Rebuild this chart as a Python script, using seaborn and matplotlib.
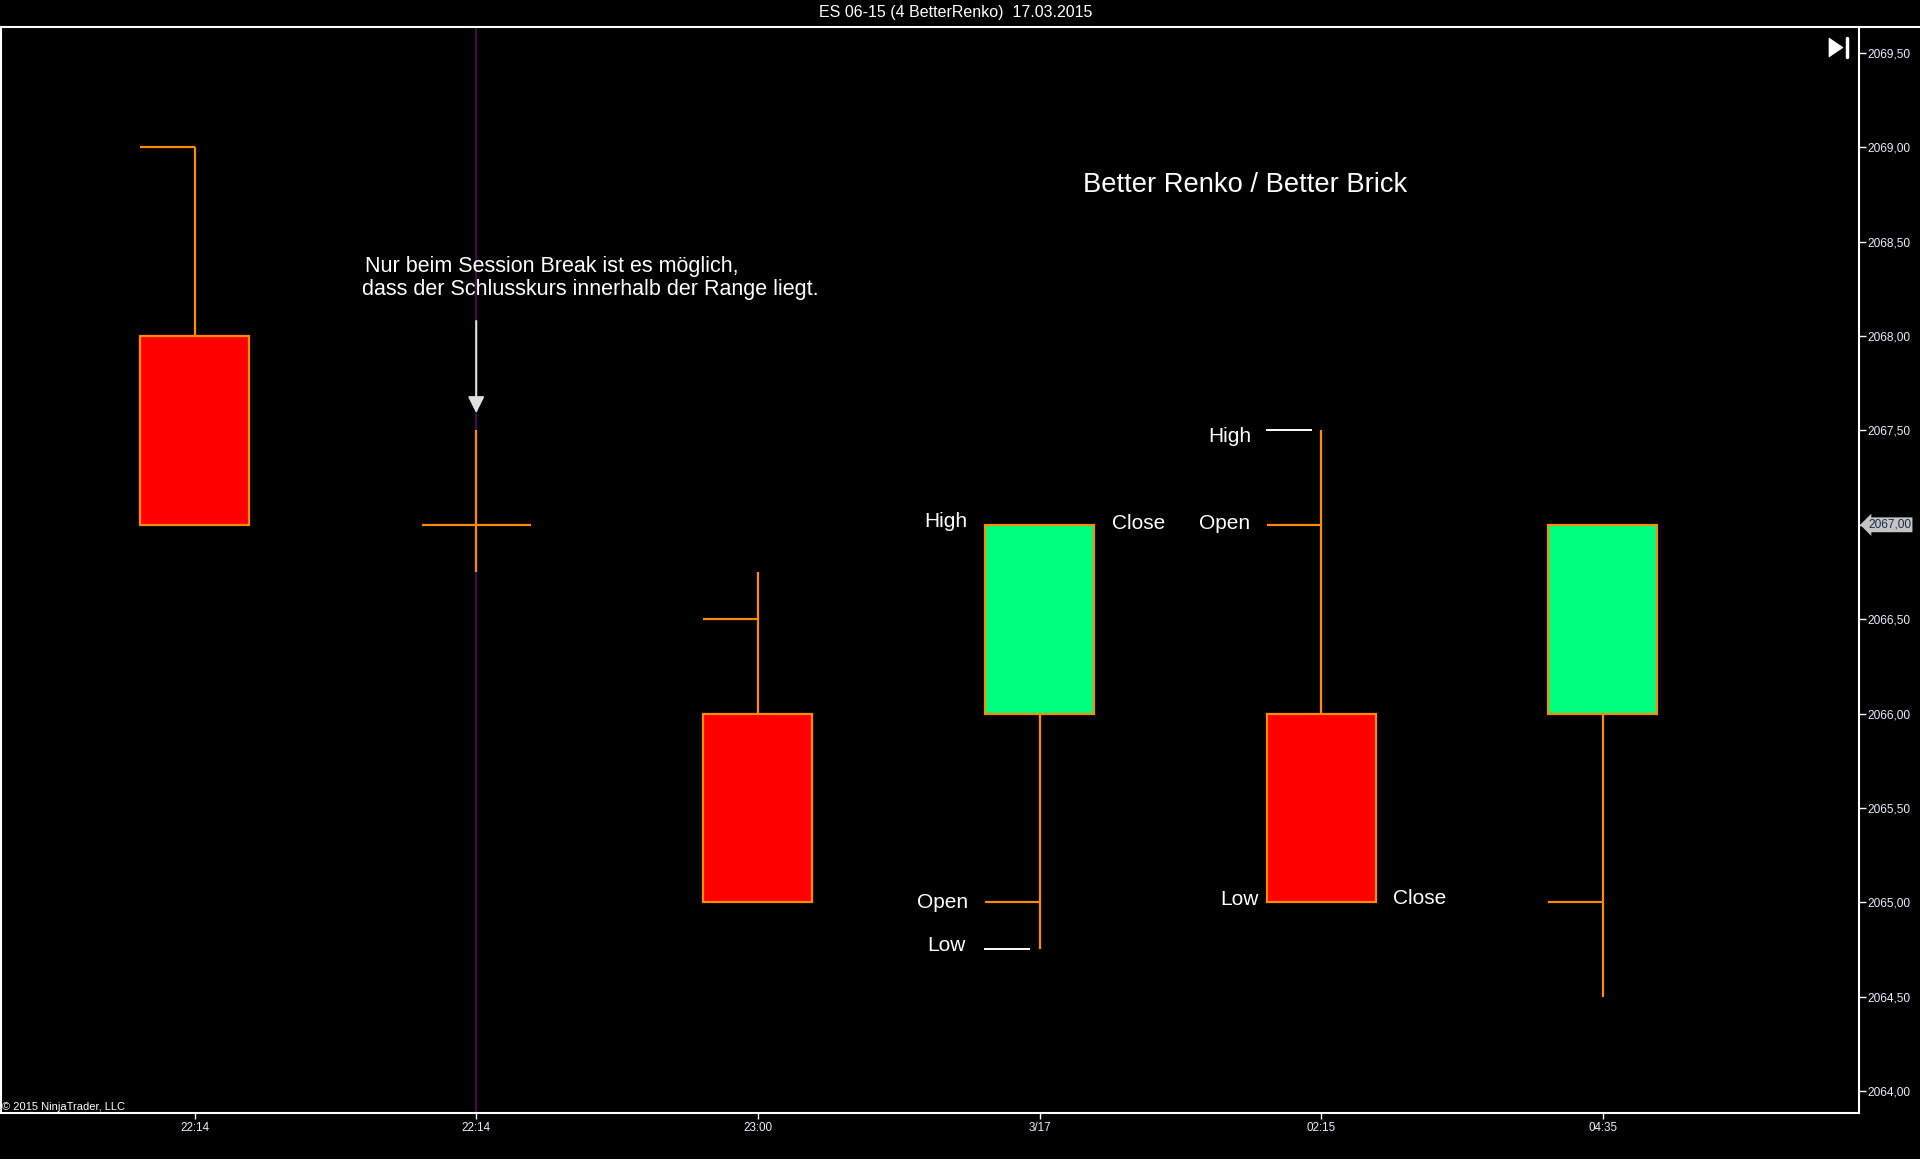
import matplotlib

matplotlib.use("Agg")
import matplotlib.pyplot as plt
import matplotlib.transforms as mtransforms
import seaborn as sns
from matplotlib.lines import Line2D
from matplotlib.patches import Polygon

# Bricks of the ES 06-15 BetterRenko chart (brick size 4 ticks = 1.00 point)
times = ["22:14", "22:14", "23:00", "3/17", "02:15", "04:35"]
opens = [2069.0, 2067.0, 2066.5, 2065.0, 2067.0, 2065.0]
highs = [2069.0, 2067.5, 2066.75, 2067.0, 2067.5, 2067.0]
lows = [2067.0, 2066.75, 2065.0, 2064.75, 2065.0, 2064.5]
closes = [2067.0, 2067.0, 2065.0, 2067.0, 2065.0, 2067.0]
body_start = [2068.0, 2067.0, 2066.0, 2066.0, 2066.0, 2066.0]
session_break = 1

y_ticks = [2064.0, 2064.5, 2065.0, 2065.5, 2066.0, 2066.5, 2067.0, 2067.5,
           2068.0, 2068.5, 2069.0, 2069.5]

# explanation labels: bar index, text, price level, side
label_bar = [3, 3, 3, 3, 4, 4, 4, 4]
label_text = ["High", "Close", "Open", "Low", "High", "Open", "Low", "Close"]
label_level = [closes[3], closes[3], opens[3], lows[3],
               highs[4], opens[4], lows[4], closes[4]]
label_side = ["left", "right", "left", "left", "left", "left", "left", "right"]
pointer_bar = [3, 4]
pointer_level = [lows[3], highs[4]]

title_text = "Better Renko / Better Brick"
note_lines = ["Nur beim Session Break ist es möglich,",
              "dass der Schlusskurs innerhalb der Range liegt."]
header = "ES 06-15 (4 BetterRenko)  17.03.2015"

# styling
ORANGE = "#FF8C00"
UP = "#00FF7F"
DOWN = "#FF0000"
HALF_W = 0.1935
label_dx = [-0.255, 0.257, -0.254, -0.262, -0.249, -0.254, -0.224, 0.253]
label_dy = [-0.011, -0.024, -0.031, -0.011, -0.063, -0.024, -0.017, -0.011]

sns.set_theme(style="dark", rc={
    "axes.facecolor": "black",
    "figure.facecolor": "black",
    "axes.edgecolor": "white",
    "text.color": "white",
})
plt.rcParams["font.family"] = ["Liberation Sans", "DejaVu Sans"]

W, H = 1920, 1159
fig = plt.figure(figsize=(W / 100, H / 100), dpi=100)
ax = fig.add_axes([1 / W, (H - 1113) / H, 1858 / W, 1086 / H])
ax.set_facecolor("black")
ax.grid(False)

ax.axvline(session_break, color="#4a0a4a", lw=1.4, zorder=1)

for i in range(len(times)):
    ax.vlines(i, lows[i], highs[i], color=ORANGE, lw=1.6, zorder=2)
    if body_start[i] == closes[i]:
        ax.hlines(closes[i], i - HALF_W, i + HALF_W, color=ORANGE, lw=1.6, zorder=3)
    else:
        fill = UP if closes[i] > body_start[i] else DOWN
        ax.bar(i, closes[i] - body_start[i], bottom=body_start[i], width=2 * HALF_W,
               color=fill, edgecolor=ORANGE, linewidth=1.6, zorder=3)
        ax.hlines(opens[i], i - HALF_W, i, color=ORANGE, lw=1.6, zorder=3)

for b, lvl in zip(pointer_bar, pointer_level):
    ax.hlines(lvl, b - 0.197, b - 0.034, color="white", lw=1.4, zorder=3)

for b, txt, lvl, side, dx, dy in zip(label_bar, label_text, label_level, label_side,
                                     label_dx, label_dy):
    ax.text(b + dx, lvl + dy, txt, ha="right" if side == "left" else "left",
            va="baseline", fontsize=15, color="white", zorder=4)

ax.text(3.154, 2068.765, title_text, ha="left", va="baseline", fontsize=19.7,
        color="white")

ax.text(0.605, 2068.341, note_lines[0], ha="left", va="baseline", fontsize=15.5,
        color="white")
ax.text(0.595, 2068.218, note_lines[1], ha="left", va="baseline", fontsize=15.5,
        color="white")
ax.annotate("", xy=(session_break, highs[session_break] + 0.092),
            xytext=(session_break, highs[session_break] + 0.58),
            arrowprops=dict(arrowstyle="-|>,head_length=0.7,head_width=0.35",
                            mutation_scale=14, color="#e0e0e0", lw=1.5,
                            shrinkA=0, shrinkB=0), zorder=5)

ax.set_xlim(-0.687, 5.909)
ax.set_ylim(2063.883, 2069.638)

ax.set_xticks(range(len(times)))
ax.set_xticklabels(times)
ax.set_yticks(y_ticks)
ax.set_yticklabels([f"{v:.2f}".replace(".", ",") for v in y_ticks])
ax.yaxis.tick_right()
ax.tick_params(axis="y", direction="out", length=5, width=1, colors="white",
               labelsize=8.6, labelcolor="#e6eeff", pad=1)
ax.tick_params(axis="x", direction="out", length=4.3, width=1, colors="white",
               labelsize=8.4, labelcolor="#e6eeff", pad=2)
ax.tick_params(left=False, bottom=True, right=True)

sns.despine(ax=ax, top=True, right=False, left=False, bottom=False)
for name in ["left", "right", "bottom"]:
    ax.spines[name].set_color("white")
    ax.spines[name].set_linewidth(1.5)

# last price marker
blend = mtransforms.blended_transform_factory(ax.transAxes, ax.transData)
ax.text(1.00484, closes[-1], f"{closes[-1]:.2f}".replace(".", ","), transform=blend,
        ha="left", va="center", fontsize=8.6, color="#1a2a4a", clip_on=False,
        zorder=10, bbox=dict(boxstyle="larrow,pad=0.12", fc="#c4c4c4", ec="none"))

# header bar
fig.add_artist(Line2D([0, 1], [1 - 27 / H, 1 - 27 / H], transform=fig.transFigure,
                      color="white", lw=1.5))
fig.text(956 / W, 1 - 13 / H, header, ha="center", va="center", fontsize=11.5,
         color="white")
fig.text(2 / W, 1 - 1107 / H, "© 2015 NinjaTrader, LLC", ha="left", va="center",
         fontsize=8, color="white")

# go-to-end button
fig.add_artist(Polygon([[1829 / W, 1 - 38 / H], [1843 / W, 1 - 47.5 / H],
                        [1829 / W, 1 - 57 / H]], closed=True, transform=fig.transFigure,
                       fc="white", ec="white", lw=0.5))
fig.add_artist(Line2D([1847 / W, 1847 / W], [1 - 38 / H, 1 - 57 / H],
                      transform=fig.transFigure, color="white", lw=2.5))

fig.savefig("out.png", dpi=100, facecolor="black")
